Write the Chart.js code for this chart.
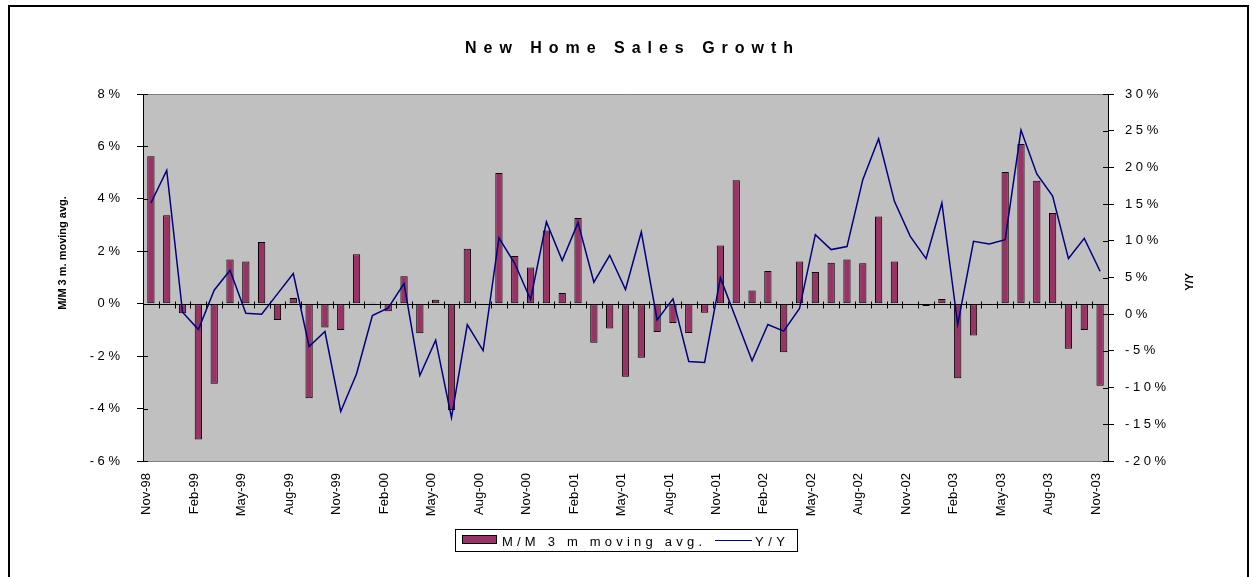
<!DOCTYPE html>
<html>
<head>
<meta charset="utf-8">
<script src="https://cdn.jsdelivr.net/npm/chart.js@4"></script>
<style>
  body { margin: 0; background: #fff; }
  canvas { display: block; }
</style>
</head>
<body>
<canvas id="chart" width="1252" height="577"></canvas>
<script>
// monthly, Nov-98 .. Nov-03
const months = [
  'Nov-98','Dec-98','Jan-99','Feb-99','Mar-99','Apr-99','May-99','Jun-99','Jul-99','Aug-99','Sep-99','Oct-99',
  'Nov-99','Dec-99','Jan-00','Feb-00','Mar-00','Apr-00','May-00','Jun-00','Jul-00','Aug-00','Sep-00','Oct-00',
  'Nov-00','Dec-00','Jan-01','Feb-01','Mar-01','Apr-01','May-01','Jun-01','Jul-01','Aug-01','Sep-01','Oct-01',
  'Nov-01','Dec-01','Jan-02','Feb-02','Mar-02','Apr-02','May-02','Jun-02','Jul-02','Aug-02','Sep-02','Oct-02',
  'Nov-02','Dec-02','Jan-03','Feb-03','Mar-03','Apr-03','May-03','Jun-03','Jul-03','Aug-03','Sep-03','Oct-03',
  'Nov-03'
];

// M/M 3 m moving avg. (%), left axis
const mmGrowth = [
  5.63, 3.37, -0.36, -5.18, -3.05, 1.69, 1.61, 2.35, -0.62, 0.22, -3.61, -0.91,
  -1.00, 1.89, 0.04, -0.29, 1.05, -1.13, 0.15, -4.05, 2.10, 0.02, 4.99, 1.82,
  1.38, 2.79, 0.41, 3.27, -1.49, -0.95, -2.79, -2.06, -1.08, -0.74, -1.12, -0.34,
  2.22, 4.71, 0.50, 1.25, -1.85, 1.61, 1.21, 1.56, 1.69, 1.54, 3.33, 1.61,
  -0.05, -0.09, 0.18, -2.84, -1.21, 0.02, 5.02, 6.09, 4.69, 3.46, -1.72, -1.00,
  -3.13
];

// Y/Y (%), right axis
const yyGrowth = [
  15.15, 19.6, 0.27, -2.09, 3.27, 5.99, 0.14, 0.0, 2.77, 5.54, -4.4, -2.36,
  -13.25, -8.12, -0.18, 0.86, 4.17, -8.35, -3.54, -14.1, -1.41, -4.95, 10.39, 6.9,
  2.0, 12.57, 7.3, 12.48, 4.36, 8.03, 3.36, 11.2, -0.77, 2.09, -6.44, -6.58,
  4.95, -0.7, -6.35, -1.41, -2.31, 0.77, 10.84, 8.8, 9.21, 18.33, 23.9, 15.38,
  10.6, 7.58, 15.15, -1.41, 9.94, 9.57, 10.16, 25.09, 19.1, 16.1, 7.58, 10.34,
  5.85
];

const leftTicks = [-6, -4, -2, 0, 2, 4, 6, 8];
const rightTicks = [-20, -15, -10, -5, 0, 5, 10, 15, 20, 25, 30];

const FONT = "'Liberation Sans', Arial, sans-serif";
Chart.defaults.font.family = FONT;
Chart.defaults.color = '#000';

// spread text out to a given width, like the old excel letter spacing
function spacedText(ctx, text, left, y, width) {
  ctx.letterSpacing = '0px';
  let w = ctx.measureText(text).width;
  let ls = (width - w) / (text.length - 1);
  ctx.letterSpacing = ls + 'px';
  ctx.textAlign = 'left';
  ctx.fillText(text, left, y);
  ctx.letterSpacing = '0px';
}

const decor = {
  id: 'decor',
  beforeDraw(chart) {
    let ctx = chart.ctx, a = chart.chartArea;
    ctx.save();
    ctx.fillStyle = '#fff';
    ctx.fillRect(0, 0, chart.width, chart.height);
    ctx.fillStyle = '#c0c0c0';
    ctx.fillRect(a.left, a.top, a.right - a.left, a.bottom - a.top);
    ctx.restore();
  },
  beforeDatasetsDraw(chart) {
    let ctx = chart.ctx, a = chart.chartArea;
    let x = chart.scales.x;
    let y0 = Math.round(chart.scales.y.getPixelForValue(0)) + 0.5;
    let step = (a.right - a.left) / months.length;
    ctx.save();
    ctx.strokeStyle = '#000';
    ctx.lineWidth = 1;
    ctx.beginPath();
    ctx.moveTo(a.left, y0);
    ctx.lineTo(a.right, y0);
    for (let i = 1; i < months.length; i++) {
      let bx = Math.round(x.getPixelForValue(i) - step / 2) + 0.5;
      ctx.moveTo(bx, y0 - 3);
      ctx.lineTo(bx, y0 + 4);
    }
    ctx.stroke();
    // top edge of plot
    ctx.strokeStyle = '#808080';
    ctx.beginPath();
    ctx.moveTo(a.left, Math.round(a.top) + 0.5);
    ctx.lineTo(a.right, Math.round(a.top) + 0.5);
    ctx.stroke();
    // inner half of the value axis ticks
    ctx.strokeStyle = '#000';
    ctx.beginPath();
    leftTicks.forEach(v => {
      let py = Math.round(chart.scales.y.getPixelForValue(v)) + 0.5;
      ctx.moveTo(a.left, py); ctx.lineTo(a.left + 5, py);
    });
    rightTicks.forEach(v => {
      let py = Math.round(chart.scales.y1.getPixelForValue(v)) + 0.5;
      ctx.moveTo(a.right, py); ctx.lineTo(a.right - 5, py);
    });
    ctx.stroke();
    ctx.restore();
  },
  afterDraw(chart) {
    let ctx = chart.ctx;
    let ds = chart.data.datasets;
    ctx.save();
    ctx.fillStyle = '#000';

    // title
    ctx.font = 'bold 16px ' + FONT;
    ctx.textBaseline = 'alphabetic';
    spacedText(ctx, 'New Home Sales Growth', 465, 53, 328);

    // axis titles
    ctx.font = 'bold 11px ' + FONT;
    ctx.textAlign = 'center';
    ctx.textBaseline = 'middle';
    ctx.save();
    ctx.translate(63, 253);
    ctx.rotate(-Math.PI / 2);
    ctx.fillText('M/M 3 m. moving avg.', 0, 0);
    ctx.restore();
    ctx.save();
    ctx.translate(1190, 282);
    ctx.rotate(-Math.PI / 2);
    ctx.fillText('Y/Y', 0, 0);
    ctx.restore();

    // legend
    ctx.strokeStyle = '#000';
    ctx.lineWidth = 1;
    ctx.strokeRect(455.5, 529.5, 342, 22);
    ctx.fillStyle = ds[0].backgroundColor;
    ctx.fillRect(462, 535, 35, 9);
    ctx.strokeRect(462.5, 535.5, 34, 8);
    ctx.strokeStyle = ds[1].borderColor;
    ctx.beginPath();
    ctx.moveTo(715, 540.5);
    ctx.lineTo(752, 540.5);
    ctx.stroke();
    ctx.fillStyle = '#000';
    ctx.font = '13px ' + FONT;
    ctx.textBaseline = 'alphabetic';
    spacedText(ctx, ds[0].label, 502, 546, 200);
    spacedText(ctx, ds[1].label, 755, 546, 30);

    // outer frame
    ctx.strokeStyle = '#000';
    ctx.lineWidth = 2;
    ctx.strokeRect(9, 6, 1239, 590);
    ctx.restore();
  }
};

new Chart(document.getElementById('chart'), {
  type: 'bar',
  data: {
    labels: months,
    datasets: [
      {
        type: 'bar',
        label: 'M/M 3 m moving avg.',
        data: mmGrowth,
        yAxisID: 'y',
        backgroundColor: '#993366',
        borderColor: '#000',
        borderWidth: 1,
        borderSkipped: false,
        categoryPercentage: 1,
        barPercentage: 0.46,
        order: 2
      },
      {
        type: 'line',
        label: 'Y/Y',
        data: yyGrowth,
        yAxisID: 'y1',
        borderColor: '#000080',
        borderWidth: 1.5,
        pointRadius: 0,
        tension: 0,
        fill: false,
        order: 1
      }
    ]
  },
  options: {
    responsive: false,
    animation: false,
    devicePixelRatio: 1,
    layout: { padding: { top: 94, left: 0, right: 0, bottom: 0 } },
    plugins: {
      legend: { display: false },
      title: { display: false },
      tooltip: { enabled: false }
    },
    scales: {
      x: {
        grid: { display: false, drawTicks: false },
        border: { display: true, color: '#808080' },
        ticks: {
          autoSkip: false,
          minRotation: 90,
          maxRotation: 90,
          padding: 12,
          labelOffset: -4,
          font: { size: 13 },
          callback: (v, i) => i % 3 === 0 ? months[i] : ''
        },
        afterFit: s => { s.height = 116; }
      },
      y: {
        position: 'left',
        min: -6, max: 8,
        grid: { drawOnChartArea: false, color: '#000', tickLength: 6 },
        border: { color: '#000' },
        ticks: {
          stepSize: 2,
          padding: 17,
          font: { size: 13 },
          callback: v => (v < 0 ? '- ' + (-v) : String(v)) + ' %'
        },
        afterFit: s => { s.width = 143; }
      },
      y1: {
        position: 'right',
        min: -20, max: 30,
        grid: { drawOnChartArea: false, color: '#000', tickLength: 6 },
        border: { color: '#000' },
        ticks: {
          stepSize: 5,
          padding: 11,
          font: { size: 13 },
          callback: v => ((v < 0 ? '-' : '') + Math.abs(v) + '%').split('').join(' ')
        },
        afterFit: s => { s.width = 144; }
      }
    }
  },
  plugins: [decor]
});
</script>
</body>
</html>
